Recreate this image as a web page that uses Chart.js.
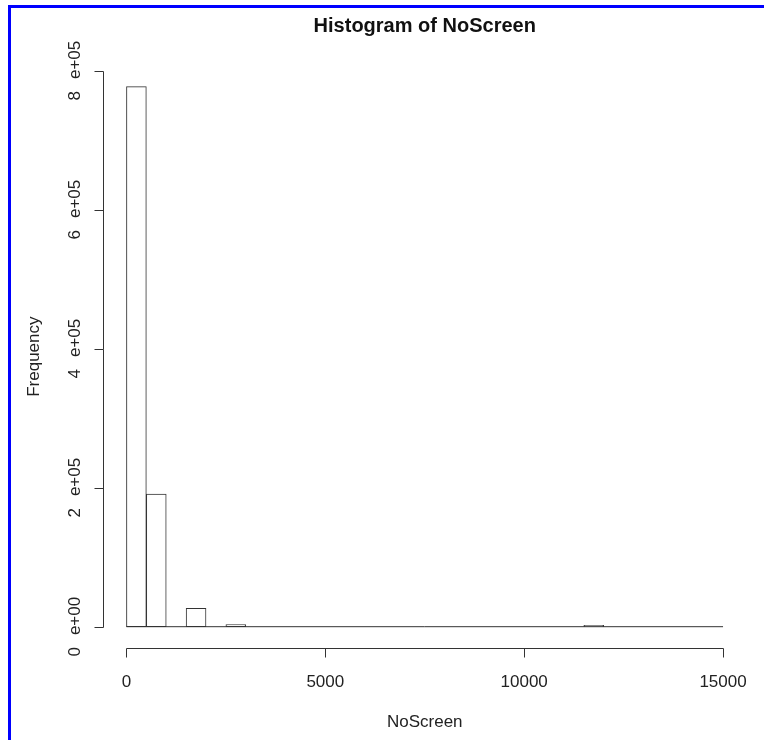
<!DOCTYPE html>
<html>
<head>
<meta charset="utf-8">
<title>Histogram of NoScreen</title>
<script src="https://cdn.jsdelivr.net/npm/chart.js@4"></script>
<style>
  html, body { margin: 0; padding: 0; background: #fff; }
  #wrap { width: 764px; height: 740px; }
</style>
</head>
<body>
<div id="wrap"><canvas id="histChart" width="764" height="740"></canvas></div>
<script>
// histogram bins of NoScreen (width 500, 0..15000)
const binStarts = [0, 500, 1000, 1500, 2000, 2500, 3000, 3500, 4000, 4500,
  5000, 5500, 6000, 6500, 7000, 7500, 8000, 8500, 9000, 9500,
  10000, 10500, 11000, 11500, 12000, 12500, 13000, 13500, 14000, 14500];
const binWidth = 500;
const counts = [777000, 190800, 0, 26500, 0, 3000, 0, 0, 0, 0,
  0, 0, 0, 0, 0, 0, 0, 0, 0, 0,
  0, 0, 0, 1800, 0, 0, 0, 0, 0, 0];

const xTicks = [0, 5000, 10000, 15000];
const xTickLabels = ['0', '5000', '10000', '15000'];
const yTicks = [0, 200000, 400000, 600000, 800000];
const yTickLabels = ['0e+00', '2e+05', '4e+05', '6e+05', '8e+05'];

const chartTitle = 'Histogram of NoScreen';
const xTitle = 'NoScreen';
const yTitle = 'Frequency';

// R style: range padded by 4% on each side
const xLo = binStarts[0], xHi = binStarts[binStarts.length - 1] + binWidth;
const yHi = Math.max(...counts);
const xPad = (xHi - xLo) * 0.04, yPad = yHi * 0.04;

const barData = binStarts.map((b, i) => ({ x: b + binWidth / 2, y: counts[i] }));

const ink = '#333';
const font = '"Liberation Sans", Arial, sans-serif';

// axes, labels and frame drawn the way R base graphics does it
const rAxes = {
  id: 'rAxes',
  afterDraw(chart) {
    const ctx = chart.ctx;
    const xs = chart.scales.x, ys = chart.scales.y;
    const area = chart.chartArea;
    const crisp = v => Math.round(v) + 0.5;
    ctx.save();

    ctx.strokeStyle = ink;
    ctx.lineWidth = 1;

    // x axis
    const axY = crisp(area.bottom);
    ctx.beginPath();
    ctx.moveTo(crisp(xs.getPixelForValue(xTicks[0])), axY);
    ctx.lineTo(crisp(xs.getPixelForValue(xTicks[xTicks.length - 1])), axY);
    xTicks.forEach(t => {
      const px = crisp(xs.getPixelForValue(t));
      ctx.moveTo(px, axY);
      ctx.lineTo(px, axY + 9);
    });
    ctx.stroke();

    // y axis
    const axX = crisp(area.left);
    ctx.beginPath();
    ctx.moveTo(axX, crisp(ys.getPixelForValue(yTicks[0])));
    ctx.lineTo(axX, crisp(ys.getPixelForValue(yTicks[yTicks.length - 1])));
    yTicks.forEach(t => {
      const py = crisp(ys.getPixelForValue(t));
      ctx.moveTo(axX, py);
      ctx.lineTo(axX - 9, py);
    });
    ctx.stroke();

    ctx.fillStyle = '#222';
    ctx.font = '17px ' + font;

    // x tick labels
    ctx.textAlign = 'center';
    ctx.textBaseline = 'alphabetic';
    xTicks.forEach((t, i) => {
      ctx.fillText(xTickLabels[i], xs.getPixelForValue(t), 687);
    });

    // y tick labels, rotated, mantissa and exponent a bit apart
    ctx.textAlign = 'left';
    yTicks.forEach((t, i) => {
      const parts = yTickLabels[i].split('e');
      const m = parts[0], e = 'e' + parts[1];
      const gap = 12;
      const wm = ctx.measureText(m).width, we = ctx.measureText(e).width;
      const total = wm + gap + we;
      ctx.save();
      ctx.translate(80, ys.getPixelForValue(t));
      ctx.rotate(-Math.PI / 2);
      ctx.fillText(m, -total / 2, 0);
      ctx.fillText(e, -total / 2 + wm + gap, 0);
      ctx.restore();
    });

    // axis titles
    const midX = (area.left + area.right) / 2;
    const midY = (area.top + area.bottom) / 2;
    ctx.textAlign = 'center';
    ctx.fillText(xTitle, midX, 727);
    ctx.save();
    ctx.translate(39, midY);
    ctx.rotate(-Math.PI / 2);
    ctx.fillText(yTitle, 0, 0);
    ctx.restore();

    // main title
    ctx.fillStyle = '#111';
    ctx.font = 'bold 20px ' + font;
    ctx.fillText(chartTitle, midX, 32);

    // blue frame of the screenshot
    ctx.fillStyle = '#0000ff';
    ctx.fillRect(8, 5, 3, chart.height - 5);
    ctx.fillRect(8, 5, chart.width - 8, 3);

    ctx.restore();
  }
};

new Chart(document.getElementById('histChart'), {
  type: 'bar',
  data: {
    datasets: [
      {
        type: 'line',
        data: [{ x: xLo, y: 0 }, { x: xHi, y: 0 }],
        borderColor: ink,
        borderWidth: 1,
        pointRadius: 0,
        fill: false
      },
      {
        type: 'bar',
        data: barData,
        backgroundColor: '#fff',
        borderColor: ink,
        borderWidth: 1,
        borderSkipped: false,
        barPercentage: 1,
        categoryPercentage: 1
      }
    ]
  },
  options: {
    responsive: false,
    animation: false,
    devicePixelRatio: 1,
    layout: { padding: { left: 102.6, right: 17.1, top: 65, bottom: 91.7 } },
    plugins: { legend: { display: false }, tooltip: { enabled: false } },
    scales: {
      x: { type: 'linear', display: false, offset: false, min: xLo - xPad, max: xHi + xPad },
      y: { type: 'linear', display: false, min: -yPad, max: yHi + yPad }
    }
  },
  plugins: [rAxes]
});
</script>
</body>
</html>
